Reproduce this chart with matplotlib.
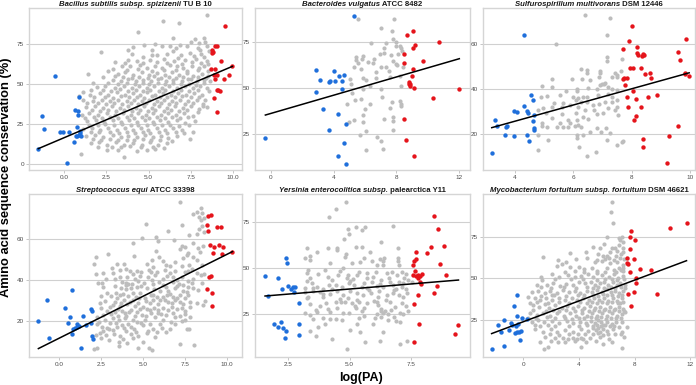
import numpy as np
import matplotlib
matplotlib.use("Agg")
import matplotlib.pyplot as plt

plt.rcParams['font.family'] = ['Liberation Sans', 'DejaVu Sans']

GRAY = '#BDBDBD'
BLUE = '#1F6FDB'
RED = '#E5141B'

# ---------------- Panel 1: Bacillus ----------------
bac_blue_x = [-1.52,-0.53,-1.32,-1.16,-0.24,-0.08,0.32,0.59,0.16,0.65,0.81,0.85,0.89,0.79,0.75,0.89,0.95,1.0,0.69,0.95]
bac_blue_y = [9.6,55.2,29.8,21.9,19.8,20.2,19.8,13.5,0.6,33.5,32.9,30.8,41.9,23.1,17.7,18.3,19.4,17.3,17.3,20.4]
bac_red_x = [9.55,8.95,9.07,8.74,8.84,8.78,9.29,8.72,8.93,9.96,9.75,8.9,9.03,8.93,9.49,9.13,9.23,9.03,8.9,9.03]
bac_red_y = [86.5,74.0,74.0,71.0,69.8,69.4,64.2,59.6,59.6,61.0,55.8,55.8,55.8,53.3,53.3,46.0,45.4,46.5,41.3,32.5]
bac_gray = [
(8.44,92.9),(5.88,89.2),(6.82,88.1),(4.36,82.5),(4.75,74.6),(6.43,78.8),(7.75,78.1),(8.28,78.8),(2.19,70.0),(3.81,71.0),
(5.19,71.5),(5.78,73.5),(6.27,73.5),(6.86,74.6),(7.3,73.5),(8.01,75.6),(8.34,76.0),(8.44,73.5),(8.6,70.4),(8.05,71.5),
(7.46,69.4),(6.47,70.4),(5.48,68.3),(4.69,66.9),(3.81,65.2),(4.3,64.2),(5.09,65.2),(5.92,65.6),(6.77,66.3),(7.16,64.8),
(7.8,65.6),(8.28,66.9),(8.44,64.2),(3.41,61.5),(3.91,61.0),(4.5,62.1),(4.89,60.0),(5.38,61.5),(5.78,60.0),(6.27,62.1),
(6.67,61.0),(7.06,60.0),(7.55,61.5),(8.01,60.0),(8.28,61.5),(1.44,56.5),(2.62,57.9),(3.21,56.5),(3.61,57.3),(4.1,55.8),
(4.6,57.3),(5.05,55.8),(5.48,56.9),(5.98,55.8),(6.37,57.3),(6.82,55.8),(7.26,56.9),(7.65,55.2),(8.15,56.5),(8.54,55.2),
(2.88,52.7),(3.35,51.7),(3.81,53.1),(4.26,51.7),(4.69,52.7),(5.13,51.7),(5.58,53.1),(6.04,51.7),(6.47,52.7),(6.96,51.7),
(7.36,53.1),(7.85,51.7),(8.28,52.7),(8.64,51.7),(1.93,48.1),(2.43,49.0),(3.02,47.5),(3.55,49.0),(4.0,47.5),(4.46,48.5),
(4.89,47.5),(5.33,49.0),(5.78,47.5),(6.23,48.5),(6.67,47.5),(7.16,49.0),(7.61,47.5),(8.05,48.5),(8.48,47.5),(1.14,44.8),
(1.54,43.3),(2.13,44.4),(2.62,43.3),(3.12,44.8),(3.61,43.3),(4.06,44.4),(4.5,43.3),(4.93,44.8),(5.38,43.3),(5.84,44.4),
(6.31,43.3),(6.77,44.4),(7.22,43.3),(7.69,44.4),(8.15,43.3),(1.1,40.2),(1.74,39.2),(2.23,40.2),(2.72,39.2),(3.21,40.2),
(3.71,39.2),(4.14,40.2),(4.6,39.2),(5.05,40.2),(5.48,39.2),(5.92,40.2),(6.37,39.2),(6.86,40.2),(7.36,39.2),(7.85,40.2),
(1.3,35.6),(1.83,36.5),(2.33,35.0),(2.82,36.0),(3.31,35.0),(3.81,36.0),(4.26,35.0),(4.73,36.0),(5.19,35.0),(5.64,36.0),
(6.07,35.0),(6.57,36.0),(7.02,35.0),(7.5,36.0),(8.01,34.4),(8.44,35.6),(1.05,30.8),(1.5,31.9),(2.03,30.8),(2.52,31.9),
(3.02,30.8),(3.51,31.9),(3.94,30.8),(4.4,31.9),(4.85,30.8),(5.29,31.9),(5.72,30.8),(6.17,31.9),(6.63,30.8),(7.1,31.9),
(7.61,30.2),(1.38,26.7),(1.89,27.7),(2.37,26.0),(2.88,27.3),(3.35,26.0),(3.87,27.3),(4.3,26.0),(4.79,27.3),(5.25,26.0),
(5.68,27.3),(6.17,26.0),(6.67,27.3),(7.16,25.6),(7.75,26.7),(1.14,21.9),(1.64,22.5),(2.13,21.5),(2.62,22.5),(3.12,21.5),
(3.61,22.5),(4.06,21.5),(4.54,22.5),(4.99,21.5),(5.48,22.5),(5.98,21.0),(6.47,22.5),(6.96,21.0),(1.3,17.3),(1.83,18.3),
(2.33,16.9),(2.88,18.3),(3.35,16.9),(3.81,17.7),(4.3,16.9),(4.79,18.3),(5.25,16.9),(5.72,17.7),(6.17,16.3),(6.67,17.3),
(7.46,15.6),(1.58,13.1),(2.09,13.5),(2.56,12.1),(3.08,13.5),(3.55,12.1),(4.06,13.1),(4.6,12.1),(5.09,13.5),(5.58,12.1),
(6.07,13.1),(2.52,8.5),(3.21,9.0),(4.3,7.9),(4.89,9.0),(5.38,9.4),(1.0,6.5),(3.55,4.2),(7.61,19.8),(8.34,40.2),(8.24,36.0),
(2.9,59.3),(3.7,58.8),(4.4,59.6),(5.2,58.4),(5.9,59.0),(6.6,58.7),(7.3,58.3),(7.9,58.9),(8.5,58.0),
(2.3,54.1),(3.0,54.9),(3.5,54.3),(4.0,53.5),(4.45,54.6),(4.95,53.9),(5.35,54.8),(5.75,53.6),(6.2,54.4),(6.6,53.8),
(7.05,54.5),(7.5,53.4),(7.95,54.2),(8.4,53.9),
(1.7,50.6),(2.6,50.9),(3.2,50.2),(3.75,50.8),(4.2,49.9),(4.7,50.5),(5.0,49.7),(5.55,50.4),(6.0,49.8),(6.45,50.6),
(6.9,49.9),(7.4,50.3),(7.8,49.6),(8.3,50.4),
(1.6,46.2),(2.3,46.4),(2.8,45.9),(3.3,46.6),(3.8,45.8),(4.25,46.3),(4.7,45.7),(5.1,46.5),(5.6,45.9),(6.0,46.2),
(6.45,45.8),(6.9,46.4),(7.4,45.7),(7.9,46.1),(8.6,45.5),
(0.9,42.3),(1.8,41.6),(2.4,42.0),(2.9,41.4),(3.35,42.2),(3.85,41.7),(4.3,42.0),(4.75,41.5),(5.2,42.2),(5.65,41.6),
(6.1,42.0),(6.55,41.7),(7.0,42.3),(7.5,41.8),(8.0,42.1),
(1.35,37.9),(2.0,38.2),(2.5,37.6),(2.95,38.0),(3.45,37.4),(3.95,38.1),(4.4,37.6),(4.85,38.0),(5.3,37.4),(5.75,37.9),
(6.2,37.5),(6.65,38.1),(7.15,37.6),(7.65,38.0),(8.2,37.7),
(1.65,33.6),(2.15,33.2),(2.6,33.8),(3.1,33.1),(3.55,33.6),(4.05,33.3),(4.5,33.8),(4.95,33.2),(5.4,33.7),(5.9,33.1),
(6.35,33.6),(6.8,33.3),(7.3,33.7),(7.9,32.8),
(1.25,28.9),(1.75,29.4),(2.25,28.8),(2.7,29.3),(3.2,28.7),(3.7,29.2),(4.15,28.6),(4.6,29.3),(5.05,28.8),(5.5,29.4),
(5.95,28.7),(6.4,29.2),(6.85,28.6),(7.35,29.1),
(1.5,24.6),(2.0,24.2),(2.45,24.8),(2.95,24.3),(3.45,24.7),(3.95,24.1),(4.4,24.6),(4.9,24.2),(5.35,24.8),(5.8,24.3),
(6.3,24.6),(6.8,24.0),(7.4,24.4),
(1.6,20.1),(2.1,19.7),(2.7,20.3),(3.25,19.6),(3.7,20.2),(4.2,19.5),(4.65,20.0),(5.1,19.6),(5.6,20.2),(6.1,19.4),
(6.6,19.9),(7.1,19.2),
(1.7,15.4),(2.2,15.0),(2.75,15.6),(3.2,14.9),(3.7,15.3),(4.15,14.8),(4.65,15.4),(5.15,15.0),(5.7,15.3),(6.4,14.6),
(2.0,10.6),(2.85,10.9),(3.4,10.4),(3.9,11.0),(4.55,10.5),(5.25,10.8),(5.9,10.2),
(3.0,63.6),(3.6,63.0),(4.7,63.4),(5.5,63.9),(6.1,63.2),(6.5,64.3),(7.0,62.8),(7.6,63.6),(8.1,63.0),(8.5,62.5),
(4.0,68.6),(5.2,67.9),(6.1,68.7),(6.9,68.2),(7.7,67.5),(8.1,68.9),
(4.1,73.2),(5.4,74.8),(6.6,72.8),(7.5,76.2),(7.9,72.4),
]
bac_fit = (4.48, 16.4)

# ---------------- Panel 2: Bacteroides ----------------
bvu_blue_x = [-0.34,5.31,2.87,2.85,3.15,3.7,3.79,4.0,4.06,4.33,4.54,4.67,4.56,3.35,4.27,4.8,3.74,4.65,4.27,4.76]
bvu_blue_y = [23.2,89.3,60.0,47.8,54.7,53.6,53.8,59.2,54.2,56.9,54.2,57.4,49.8,39.0,36.2,30.8,27.2,20.5,13.4,9.1]
bvu_red_x = [8.66,9.07,10.7,9.21,9.04,8.51,9.68,8.49,9.07,8.96,8.83,8.87,8.77,8.87,9.09,12.0,10.3,8.45,8.58,9.13]
bvu_red_y = [79.2,81.3,75.2,73.4,71.7,68.8,65.0,63.6,60.7,56.7,53.6,52.5,52.2,51.1,50.4,49.8,44.6,33.5,21.9,13.4]
bvu_gray = [
(5.58,87.5),(7.86,87.7),(7.0,82.8),(7.7,81.0),(7.79,76.6),(6.39,74.6),(7.35,74.8),(7.96,75.2),(7.94,72.8),(8.2,72.8),
(7.18,71.9),(8.28,71.9),(8.37,70.3),(7.22,69.2),(8.07,68.8),(7.66,67.9),(6.96,68.5),(6.54,66.1),(5.44,67.0),(5.86,67.4),
(5.8,66.1),(5.44,65.6),(6.18,64.3),(7.81,64.7),(7.96,63.4),(8.03,62.5),(5.58,63.8),(6.5,63.8),(5.31,61.6),(5.73,60.7),
(7.01,61.6),(6.69,58.9),(7.35,61.6),(7.5,59.4),(8.39,61.6),(8.2,56.5),(5.05,54.9),(5.86,55.6),(6.07,54.7),(6.69,55.6),
(7.56,56.2),(8.3,51.4),(5.12,52.2),(5.2,47.5),(5.9,49.8),(6.33,51.4),(7.0,49.6),(7.07,45.3),(5.37,43.5),(5.73,44.0),
(4.84,41.3),(6.33,41.7),(7.7,42.6),(8.24,43.1),(8.28,41.7),(8.3,40.2),(7.56,39.5),(5.99,38.6),(5.9,35.3),(7.22,33.5),
(7.81,34.4),(7.81,32.1),(5.31,32.6),(4.97,31.7),(5.9,31.7),(7.81,27.2),(6.07,26.8),(5.65,24.5),(6.75,23.6),(7.0,21.4),
(7.13,17.2),(6.07,16.3),
]
bvu_fit = (2.48, 36.3)

# ---------------- Panel 3: Sulfurospirillum ----------------
smu_blue_x = [4.29,3.2,3.3,3.37,3.71,3.69,3.66,3.98,3.97,4.06,4.31,4.4,4.43,4.54,4.61,4.65,4.63,4.65,4.65,4.4,4.49]
smu_blue_y = [63.9,11.6,26.4,23.7,23.7,23.4,19.7,19.3,30.4,29.9,32.6,30.4,29.3,37.5,35.0,28.4,25.9,22.8,21.9,19.7,17.0]
smu_red_x = [8.0,9.87,7.9,8.17,7.69,8.17,8.38,8.23,8.34,8.43,9.6,9.66,7.95,8.06,8.31,8.63,8.45,9.81,9.83,9.97,8.66,7.74,
             7.83,7.71,7.77,7.83,8.06,8.14,8.57,8.86,7.86,8.31,8.09,8.14,8.4,8.4,9.29,9.6,9.2]
smu_red_y = [68.1,62.2,61.6,58.8,58.1,56.0,55.7,55.3,54.8,55.0,56.4,53.0,49.6,49.3,49.6,47.4,46.7,47.4,46.7,45.9,44.9,45.2,
             44.9,44.6,41.9,36.7,39.0,35.6,36.7,37.6,32.3,31.9,26.1,27.9,17.8,14.5,19.0,23.7,7.1]
smu_gray = [
(6.4,72.9),(7.26,71.6),(7.14,64.1),(5.41,60.0),(7.14,54.1),(7.14,52.6),(7.66,53.3),(6.25,48.9),(6.46,48.6),(6.48,47.1),
(6.91,48.1),(6.91,47.1),(7.43,47.4),(7.49,46.4),(7.63,47.9),(7.49,45.3),(7.31,45.6),(6.89,45.6),(6.29,44.7),(6.57,44.1),
(5.26,44.6),(5.94,44.4),(4.91,41.5),(5.26,41.2),(6.51,40.4),(6.11,40.0),(6.11,39.0),(5.75,39.4),(6.91,41.9),(6.97,42.4),
(7.05,42.4),(7.1,42.7),(7.2,40.9),(7.34,40.0),(6.8,40.0),(7.49,39.7),(7.2,37.9),(7.31,36.7),(6.85,37.5),(6.46,36.7),
(6.34,36.4),(6.17,36.0),(6.0,36.4),(5.54,37.5),(5.11,37.0),(4.89,36.7),(6.09,35.3),(6.26,34.5),(6.46,34.5),(6.66,33.0),
(6.89,33.5),(7.09,34.5),(7.31,34.5),(7.49,35.3),(7.49,32.0),(7.43,30.8),(7.2,31.6),(7.54,28.6),(7.03,29.3),(6.69,30.8),
(6.8,28.9),(6.4,30.8),(6.17,32.0),(5.89,33.0),(5.6,32.0),(5.66,33.8),(5.26,32.3),(4.97,31.6),(4.77,30.8),(5.06,29.3),
(5.6,28.9),(6.09,29.3),(6.34,27.6),(6.51,26.7),(6.11,26.1),(5.89,24.9),(5.54,24.9),(5.26,27.1),(4.91,24.9),(4.94,23.7),
(5.11,23.0),(5.43,23.4),(5.66,23.0),(5.83,23.4),(6.06,23.7),(6.17,24.1),(6.25,23.4),(6.8,22.7),(7.12,22.7),(6.94,21.2),
(6.57,21.2),(7.26,20.7),(6.11,19.7),(6.34,19.7),(4.77,19.7),(6.11,18.2),(5.12,17.5),(7.14,17.5),(7.66,16.7),(7.71,17.2),
(7.51,15.3),(6.2,14.5),(4.77,13.0),(6.46,10.1),(6.78,12.3),(5.8,26.1),(5.34,33.8),
]
smu_fit = (3.6, 11.4)

# ---------------- Panel 4: Streptococcus ----------------
seq_blue_x = [-1.25,-0.76,-0.6,0.74,0.36,0.64,0.54,0.82,0.94,0.76,1.08,1.2,1.04,1.43,1.57,1.89,1.93,1.87,1.93,1.99,1.27]
seq_blue_y = [20.0,30.1,11.5,35.0,26.5,21.8,19.0,16.1,16.4,13.5,18.4,17.6,17.2,22.4,17.9,25.7,24.9,19.2,12.8,11.2,6.9]
seq_red_x = [8.9,9.04,8.8,9.4,9.64,8.9,9.0,9.26,9.54,9.76,9.2,9.72,10.34,8.94,9.06,8.8,9.12,9.1]
seq_red_y = [71.4,71.8,67.0,66.2,65.9,64.2,57.2,56.4,57.1,56.1,53.5,53.0,53.6,41.7,42.0,35.5,33.9,27.5]
seq_gray = [
(7.21,78.4),(8.45,75.5),(8.21,73.6),(8.5,72.7),(7.97,72.4),(8.33,70.8),(8.63,70.3),(8.45,69.5),(5.16,67.5),(7.3,67.0),
(8.5,66.6),(8.37,64.9),(6.51,64.2),(8.21,62.4),(8.63,63.4),(7.75,62.1),(4.92,60.5),(5.78,61.0),(5.92,59.2),(4.42,58.0),
(8.01,58.0),(7.51,56.4),(8.61,56.9),(8.31,55.6),(5.78,54.3),(7.21,55.1),(8.41,54.0),(2.93,52.7),(4.46,52.0),(7.65,52.3),
(8.01,51.5),(7.41,51.0),(2.17,51.5),(5.52,49.9),(6.18,49.4),(6.91,49.1),(2.09,47.9),(3.43,47.9),(3.86,47.9),(5.22,47.9),
(5.58,46.6),(6.35,47.4),(6.61,46.9),(7.3,46.9),(7.77,47.4),(8.5,47.4),(3.13,45.8),(3.63,45.0),(4.22,44.5),(4.62,44.5),
(5.38,45.0),(5.46,43.8),(5.82,44.2),(6.91,44.5),(7.67,44.7),(8.21,43.3),(8.47,42.5),(8.65,42.9),(2.17,43.0),(2.63,43.3),
(4.02,41.7),(4.38,42.9),(4.82,42.2),(6.41,42.2),(6.81,41.7),(7.31,41.7),(2.29,38.8),(2.57,38.8),(3.33,40.4),(3.73,39.3),
(3.98,38.8),(4.12,38.0),(4.32,38.0),(4.72,39.6),(5.06,38.4),(5.52,40.1),(5.98,39.3),(6.22,37.6),(6.81,38.9),(7.17,38.3),
(7.41,37.6),(7.71,36.8),(8.01,36.3),(8.5,38.4),(3.67,36.3),(3.98,35.7),(4.26,36.3),(4.62,36.8),(5.22,36.0),(5.66,35.7),
(6.02,34.7),(6.51,34.7),(6.91,36.0),(7.37,34.7),(7.61,34.0),(2.87,33.6),(3.39,33.6),(3.82,33.1),(4.38,33.6),(4.82,33.6),
(5.46,32.7),(5.82,31.9),(6.41,32.7),(6.81,31.9),(7.21,32.7),(3.47,31.1),(3.86,30.3),(4.38,30.3),(4.78,31.1),(5.18,29.8),
(5.58,30.3),(6.02,30.3),(6.51,29.1),(6.91,30.3),(7.5,31.1),(8.21,28.7),(8.57,27.8),(8.71,29.8),(2.43,28.7),(3.19,27.8),
(3.63,27.5),(4.06,28.2),(4.52,27.5),(5.02,27.0),(5.22,25.9),(5.66,26.2),(6.18,26.5),(6.71,27.0),(7.01,25.9),(7.31,26.5),
(2.83,24.9),(3.33,24.6),(3.73,24.9),(3.92,23.8),(4.18,24.2),(4.62,24.6),(4.92,22.9),(5.46,23.8),(5.92,23.8),(6.37,22.9),
(6.77,23.8),(7.21,22.6),(7.51,23.3),(2.27,22.1),(2.73,20.5),(3.23,21.6),(3.59,20.5),(3.92,21.3),(4.38,20.5),(4.62,19.7),
(5.12,20.5),(6.22,20.5),(6.65,19.7),(7.31,20.0),(7.51,20.5),(2.23,18.4),(2.53,17.2),(2.87,16.7),(2.99,16.1),(3.43,17.2),
(3.73,18.0),(3.86,16.7),(4.28,17.2),(4.46,16.1),(5.02,18.0),(5.62,16.1),(5.82,14.8),(6.12,16.7),(6.61,16.1),(7.61,16.1),
(7.77,16.1),(2.43,14.0),(2.79,13.1),(3.27,13.5),(3.63,12.8),(4.26,13.5),(4.72,12.4),(5.22,14.0),(2.99,10.7),(3.59,9.9),
(4.02,9.1),(4.98,9.9),(2.27,6.9),(2.07,6.3),(3.57,7.5),(4.72,6.9),(5.38,6.9),(5.52,5.8),(7.21,8.6),(8.05,8.2),
(7.31,56.9),(6.87,59.7),(7.71,53.1),(5.98,51.2),(6.31,45.0),(7.95,45.5),(8.21,49.9),(2.17,13.1),(7.37,28.2),(7.81,27.0),
(3.2,43.5),(4.0,45.6),(4.9,44.0),(5.7,42.6),(6.6,43.5),(7.5,43.9),(8.0,40.4),
(2.8,40.5),(3.6,41.7),(4.5,40.5),(5.3,41.5),(6.2,40.6),(7.0,40.3),(7.7,39.6),
(2.6,36.4),(3.3,37.2),(4.0,37.5),(4.9,37.0),(5.6,38.1),(6.4,36.4),(7.0,37.2),(7.9,38.4),(8.3,35.0),
(2.5,32.0),(3.1,32.4),(3.6,32.8),(4.1,32.2),(4.6,31.9),(5.1,31.4),(5.6,32.5),(6.2,31.5),(6.6,33.4),(7.0,31.2),(7.7,32.6),
(2.7,29.6),(3.3,29.2),(3.7,28.8),(4.2,29.4),(4.7,28.6),(5.4,28.9),(5.9,28.3),(6.3,30.5),(6.7,28.7),(7.2,29.4),(7.8,29.5),
(2.5,26.2),(3.0,26.7),(3.5,26.0),(4.3,25.6),(4.8,26.0),(5.4,25.4),(5.9,25.2),(6.5,25.5),(7.5,25.0),
(2.6,23.0),(3.1,23.2),(3.5,22.5),(4.0,22.6),(4.5,22.4),(5.2,22.3),(5.7,22.0),(6.1,23.6),(6.9,22.0),(7.8,21.8),
(2.4,19.5),(3.0,19.2),(3.4,18.8),(4.1,18.7),(4.9,19.0),(5.4,18.6),(6.0,18.7),(6.9,18.3),
(2.6,15.3),(3.2,15.6),(4.0,15.0),(4.6,14.8),(5.3,15.3),(6.4,14.5),
(2.5,11.8),(3.8,11.2),(4.4,11.5),(5.7,12.0),
]
seq_fit = (4.1, 11.6)

# ---------------- Panel 5: Yersinia ----------------
yen_blue_x = [1.55,1.68,2.07,2.39,2.46,2.23,2.5,2.6,2.68,2.77,2.74,2.93,1.92,2.09,2.19,2.27,2.39,2.36,2.93,2.93]
yen_blue_y = [46.0,35.0,44.6,55.8,52.7,38.8,40.4,38.8,39.7,39.7,37.0,31.0,19.6,18.3,20.7,17.8,15.9,12.0,19.6,13.8]
yen_red_x = [8.45,8.61,8.32,8.83,8.17,7.7,7.7,7.62,7.57,8.68,7.67,7.6,7.7,7.8,7.86,7.97,7.8,8.93,7.89,7.9,8.57,8.44,
             7.8,7.64,7.84,9.44,9.29,7.64]
yen_red_y = [78.4,71.4,61.6,62.3,58.5,58.7,55.1,54.0,51.8,52.2,48.6,46.4,46.0,46.4,46.0,46.7,44.9,46.4,42.8,41.3,40.2,36.4,
             35.5,30.6,19.6,19.0,14.5,9.8]
yen_gray = [
(4.84,86.2),(4.44,82.2),(4.17,78.1),(6.78,73.0),(5.26,72.3),(5.63,72.3),(5.49,70.8),(4.95,71.2),(4.98,68.5),(4.77,65.9),
(6.28,64.1),(4.13,61.2),(3.25,60.9),(4.47,61.2),(4.5,60.0),(5.26,61.4),(5.49,61.4),(6.96,60.9),(4.85,57.8),(5.83,59.1),
(3.68,59.1),(3.38,56.9),(3.18,55.8),(3.38,54.3),(4.81,56.3),(5.59,55.8),(5.9,54.0),(6.4,55.4),(6.24,55.1),(6.35,54.0),
(6.96,55.8),(6.96,54.0),(5.42,53.3),(5.11,53.1),(4.2,52.7),(6.1,51.8),(6.37,51.8),(7.03,51.8),(3.32,49.1),(3.27,47.3),
(3.99,49.1),(4.74,50.0),(5.4,47.8),(5.72,47.3),(6.08,47.8),(6.51,47.3),(6.74,47.8),(7.12,47.8),(7.3,46.7),(4.1,45.5),
(4.54,46.4),(4.88,44.6),(4.95,46.4),(5.15,44.2),(5.72,44.6),(6.3,43.7),(6.64,42.8),(7.0,42.8),(7.19,41.8),(7.39,43.7),
(3.25,43.1),(3.45,41.8),(3.68,40.0),(3.93,38.8),(4.16,40.9),(4.43,40.9),(4.7,40.0),(4.97,41.8),(5.18,40.9),(5.49,40.0),
(5.69,39.1),(6.1,40.4),(6.37,40.0),(6.78,40.9),(7.12,40.0),(3.18,39.1),(3.18,37.0),(3.32,34.6),(3.52,37.7),(3.79,37.3),
(4.2,35.9),(4.5,37.7),(4.74,35.5),(4.95,34.1),(5.31,36.4),(5.56,35.5),(5.87,36.4),(6.17,34.6),(6.51,35.5),(6.78,36.4),
(7.0,35.5),(7.19,34.6),(7.32,36.4),(4.04,31.0),(4.44,31.9),(4.65,31.9),(4.81,31.5),(5.08,31.0),(5.39,31.9),(5.72,31.0),
(6.17,30.1),(6.64,31.9),(6.85,29.2),(7.12,31.0),(3.18,25.5),(3.63,27.4),(3.68,26.4),(4.2,26.4),(4.74,25.9),(4.99,25.5),
(5.28,28.3),(5.49,26.8),(6.3,26.8),(6.37,25.5),(6.44,26.8),(6.58,25.0),(7.05,25.5),(7.19,25.0),(3.52,22.3),(3.9,22.8),
(4.2,22.3),(4.44,22.3),(5.39,22.8),(6.04,22.8),(6.3,23.7),(6.58,21.9),(6.89,21.4),(7.05,21.0),(3.38,15.9),(3.63,13.4),
(3.72,18.3),(5.01,16.5),(5.31,19.6),(5.94,19.6),(5.42,15.6),(6.37,15.6),(4.27,11.6),(5.63,10.1),(6.24,10.5),(7.32,10.5),
(7.05,8.7),(4.88,6.2),(3.25,33.7),(3.93,34.6),(7.53,42.8),(6.92,46.4),(5.9,42.8),(6.1,31.9),
(3.4,45.0),(3.7,47.0),(4.3,43.5),(4.6,48.5),(5.0,43.0),(5.3,46.5),(5.6,42.0),(5.95,45.5),(6.25,41.5),(6.6,44.5),
(6.9,38.5),(7.2,44.5),(3.5,39.5),(3.9,36.0),(4.3,38.5),(4.6,33.5),(5.0,37.5),(5.3,33.0),(5.8,38.0),(6.2,37.5),
(6.5,33.0),(6.8,38.0),(7.3,38.5),(3.4,30.5),(3.8,29.5),(4.1,28.0),(4.5,28.5),(5.2,29.5),(5.6,28.5),(6.0,32.5),
(6.3,28.0),(6.7,27.5),(7.3,29.5),(3.4,24.5),(4.0,20.0),(4.7,22.0),(5.6,24.0),(6.1,25.0),(6.8,23.5),(7.4,27.0),
]
yen_fit = (1.1, 33.25)

# ---------------- Panel 6: Mycobacterium ----------------
mfo_blue_x = [-2.28,-1.8,-1.63,-1.37,-1.37,-1.03,-0.89,-0.79,-0.43,-0.65,-0.43,-0.6,-0.43,-0.29,-0.17,-0.36,-0.07,-0.24,0.24,-0.53]
mfo_blue_y = [7.4,22.0,18.0,25.0,9.6,19.0,23.0,22.0,40.0,33.4,27.6,17.4,18.0,18.0,18.4,22.4,26.0,13.0,25.4,21.4]
mfo_red_x = [7.74,11.74,10.54,7.66,8.05,7.71,7.47,7.95,7.43,7.55,8.38,9.17,7.66,8.14,8.07,7.95,7.55,9.65,7.78]
mfo_red_y = [78.4,83.0,80.0,74.6,73.0,67.4,62.4,61.6,59.0,58.4,55.6,54.8,53.6,50.4,47.4,42.0,40.6,40.6,33.4]
mfo_gray = [
(6.35,96.0),(6.28,89.6),(6.42,83.0),(5.99,75.0),(6.9,74.0),(7.07,74.6),(6.95,73.0),(7.19,72.0),(5.03,69.0),(4.5,66.0),
(5.8,70.4),(5.51,68.0),(6.35,68.0),(6.59,68.4),(6.9,70.0),(7.14,68.0),(7.19,66.0),(1.44,63.0),(3.35,65.4),(5.39,64.4),
(5.7,63.6),(5.99,63.6),(6.18,62.4),(6.66,63.6),(6.95,62.4),(7.23,61.6),(2.51,61.0),(3.07,59.6),(4.02,57.0),(5.15,59.6),
(5.63,60.4),(6.23,59.0),(6.71,59.6),(7.19,58.0),(2.4,57.4),(2.75,58.4),(3.35,57.0),(3.71,54.4),(4.36,55.6),(4.91,56.0),
(5.32,54.4),(5.99,56.0),(6.51,55.0),(6.9,56.0),(7.19,54.4),(1.27,51.0),(1.32,49.0),(2.04,52.4),(2.59,51.0),(3.23,52.0),
(3.71,51.0),(4.12,51.6),(4.67,52.4),(5.03,51.0),(5.63,52.0),(6.18,51.0),(6.51,52.4),(6.83,50.4),(7.14,51.6),(0.96,46.0),
(1.72,46.0),(2.16,47.0),(2.63,45.6),(3.07,46.4),(3.59,46.0),(4.02,48.0),(4.43,47.0),(4.84,47.6),(5.15,46.0),(5.51,47.0),
(5.8,48.0),(6.11,46.0),(6.47,47.6),(6.71,46.0),(6.99,47.0),(7.31,46.0),(0.6,42.0),(1.08,42.4),(1.56,41.0),(1.92,42.4),
(2.4,41.0),(2.87,43.0),(3.31,41.6),(3.71,42.4),(4.07,41.0),(4.55,42.4),(4.91,41.6),(5.27,43.0),(5.63,42.0),(5.99,43.6),
(6.28,41.6),(6.59,42.4),(6.9,41.0),(7.19,42.4),(0.36,39.0),(0.84,38.0),(1.2,37.0),(1.63,38.4),(2.04,37.0),(2.59,38.0),
(3.0,37.0),(3.47,38.4),(3.88,37.0),(4.31,38.0),(4.74,37.0),(5.08,38.4),(5.46,37.0),(5.8,38.0),(6.11,36.4),(6.42,38.0),
(6.71,36.4),(7.07,38.0),(0.72,34.0),(1.15,33.0),(1.56,34.4),(1.87,32.4),(2.28,34.0),(2.75,32.4),(3.16,33.6),(3.59,32.4),
(3.95,33.6),(4.36,32.0),(4.79,33.6),(5.15,32.0),(5.51,33.0),(5.87,31.6),(6.23,33.0),(6.59,31.6),(6.9,33.0),(7.19,31.6),
(0.48,29.0),(0.96,28.0),(1.44,29.0),(1.92,27.6),(2.4,29.0),(2.92,27.6),(3.35,29.0),(3.78,27.6),(4.19,29.0),(4.55,27.6),
(4.91,29.0),(5.32,27.6),(5.63,29.0),(5.99,27.6),(6.35,29.0),(6.71,27.6),(7.07,28.4),(0.6,24.0),(1.08,25.0),(1.49,23.6),
(2.04,24.4),(2.59,23.0),(3.11,24.4),(3.59,23.0),(4.07,24.0),(4.5,23.0),(4.84,24.4),(5.15,23.0),(5.39,25.0),(5.56,23.6),
(5.75,22.0),(6.04,24.0),(6.35,22.4),(6.66,23.6),(7.07,24.0),(0.84,19.6),(1.44,18.0),(1.96,19.6),(2.4,18.0),(3.0,19.0),
(3.54,18.0),(4.12,19.6),(4.67,18.4),(5.03,20.4),(5.22,19.0),(5.39,20.4),(5.51,18.0),(5.7,19.6),(5.99,18.4),(6.47,19.6),
(7.07,18.0),(1.56,15.0),(2.28,14.0),(2.87,14.4),(3.23,13.6),(3.59,14.4),(3.88,13.6),(4.12,14.4),(4.31,13.6),(4.79,14.0),
(5.51,15.0),(6.18,13.6),(1.2,12.0),(2.51,11.6),(1.8,9.0),(1.49,7.6),(4.12,9.0),(5.75,10.4),(7.11,8.0),(0.48,35.0),
(0.84,22.0),(0.36,26.4),(6.95,35.0),(7.31,30.0),(7.43,21.0),(7.23,15.0),(7.19,56.0),(2.04,40.0),
(3.0,53.6),(4.4,53.8),(5.3,53.2),(5.9,53.9),(6.7,53.6),(7.0,54.8),
(2.3,49.5),(3.4,49.3),(4.3,49.8),(5.3,49.2),(5.9,49.7),(6.35,49.4),(6.75,48.9),(7.25,49.8),
(1.3,44.5),(2.0,44.2),(2.9,44.7),(3.8,44.3),(4.6,44.8),(5.0,44.4),(5.4,44.9),(5.8,44.3),(6.3,44.7),(6.6,44.1),(7.0,44.6),(7.35,44.0),
(1.3,39.6),(2.2,39.9),(3.1,39.5),(3.9,40.2),(4.4,39.7),(5.0,40.1),(5.35,39.5),(5.7,40.3),(6.05,39.8),(6.4,40.2),(6.8,39.5),(7.1,40.0),
(1.0,35.6),(1.8,35.2),(2.6,35.8),(3.3,35.3),(4.1,35.7),(4.55,35.2),(4.95,35.8),(5.3,35.3),(5.65,35.9),(6.0,35.0),(6.4,35.5),(6.8,35.2),(7.2,35.7),
(0.7,30.8),(1.6,30.4),(2.1,30.9),(2.6,30.3),(3.1,30.7),(3.7,30.2),(4.2,30.8),(4.7,30.5),(5.1,30.9),(5.45,30.3),(5.8,30.8),(6.15,30.4),(6.5,30.9),(6.85,30.2),(7.25,30.6),
(0.9,26.2),(1.7,26.5),(2.3,25.9),(3.0,26.3),(3.5,25.8),(4.0,26.4),(4.4,25.9),(4.85,26.6),(5.25,26.0),(5.6,26.5),(5.95,25.8),(6.3,26.3),(6.65,25.9),(7.0,26.4),
(1.2,21.4),(1.8,21.8),(2.3,21.2),(3.3,21.6),(4.0,21.3),(4.6,21.7),(5.0,21.2),(5.3,22.0),(5.6,21.3),(5.9,21.7),(6.2,21.1),(6.55,21.5),(6.9,21.0),
(1.9,16.6),(2.6,16.2),(3.3,16.7),(3.9,16.3),(4.45,16.8),(5.0,16.4),(5.35,16.9),(5.75,16.2),(6.1,16.6),(6.6,16.3),(7.0,16.7),
(2.0,12.5),(3.0,12.0),(3.7,12.3),(4.5,11.6),(5.2,12.4),(6.4,11.8),
(3.8,61.5),(4.6,62.0),(5.3,61.0),(5.9,61.5),(6.5,61.0),(7.0,64.6),(6.2,66.0),(6.75,66.4),
]
mfo_fit = (3.12, 23.96)

# ---------------- Layout ----------------
titles = [
    ("Bacillus subtilis subsp. spizizenii", " TU B 10"),
    ("Bacteroides vulgatus", " ATCC 8482"),
    ("Sulfurospirillum multivorans", " DSM 12446"),
    ("Streptococcus equi", " ATCC 33398"),
    ("Yersinia enterocolitica subsp.", " palearctica Y11"),
    ("Mycobacterium fortuitum subsp. fortuitum", " DSM 46621"),
]
panels = [
    (bac_gray, bac_blue_x, bac_blue_y, bac_red_x, bac_red_y, bac_fit),
    (bvu_gray, bvu_blue_x, bvu_blue_y, bvu_red_x, bvu_red_y, bvu_fit),
    (smu_gray, smu_blue_x, smu_blue_y, smu_red_x, smu_red_y, smu_fit),
    (seq_gray, seq_blue_x, seq_blue_y, seq_red_x, seq_red_y, seq_fit),
    (yen_gray, yen_blue_x, yen_blue_y, yen_red_x, yen_red_y, yen_fit),
    (mfo_gray, mfo_blue_x, mfo_blue_y, mfo_red_x, mfo_red_y, mfo_fit),
]
xlims = [(-2.07, 10.53), (-1.0, 12.68), (2.90, 10.17), (-1.81, 10.91), (1.14, 9.91), (-2.9, 12.35)]
ylims = [(-3.75, 97.5), (5.6, 93.6), (4.1, 76.1), (2.35, 82.2), (1.8, 90.4), (2.8, 100.6)]
xticks = [[0, 2.5, 5, 7.5, 10], [0, 4, 8, 12], [4, 6, 8, 10], [0, 2.5, 5, 7.5, 10], [2.5, 5, 7.5], [0, 4, 8, 12]]
xticklabels = [["0.0", "2.5", "5.0", "7.5", "10.0"], ["0", "4", "8", "12"], ["4", "6", "8", "10"],
               ["0.0", "2.5", "5.0", "7.5", "10.0"], ["2.5", "5.0", "7.5"], ["0", "4", "8", "12"]]
yticks = [[0, 25, 50, 75], [25, 50, 75], [20, 40, 60], [20, 40, 60], [25, 50, 75], [25, 50, 75]]

W, H = 696, 385
fig = plt.figure(figsize=(W / 100, H / 100), dpi=100)
col_px = [(29, 242), (255, 470), (483, 695)]
row_px = [(8, 170), (194, 357)]

axes = []
for i in range(6):
    r, c = divmod(i, 3)
    x0, x1 = col_px[c]
    y0, y1 = row_px[r]
    ax = fig.add_axes([x0 / W, 1 - y1 / H, (x1 - x0) / W, (y1 - y0) / H])
    axes.append(ax)
    gray, bx, by, rx, ry, fit = panels[i]
    g = np.array(gray)
    ax.scatter(g[:, 0], g[:, 1], s=9, c=GRAY, linewidths=0, zorder=2)
    ax.scatter(bx, by, s=10, c=BLUE, linewidths=0, zorder=3)
    ax.scatter(rx, ry, s=10, c=RED, linewidths=0, zorder=3)
    allx = np.concatenate([g[:, 0], bx, rx])
    xs = np.array([allx.min(), allx.max()])
    ax.plot(xs, fit[0] * xs + fit[1], color='black', lw=1.1, zorder=4)
    ax.set_xlim(*xlims[i])
    ax.set_ylim(*ylims[i])
    ax.set_xticks(xticks[i])
    ax.set_xticklabels(xticklabels[i])
    ax.set_yticks(yticks[i])
    ax.grid(axis='y', color='#D0D0D0', lw=0.8, zorder=0)
    ax.set_axisbelow(True)
    for sp in ax.spines.values():
        sp.set_color('#D5D5D5')
        sp.set_linewidth(1.0)
    ax.tick_params(axis='both', labelsize=4.6, colors='#4D4D4D', length=2, width=0.6, pad=1.5)
    ax.tick_params(axis='both', color='#BBBBBB')

# titles with italic + upright parts
title_parts = []
for ax, (it, up) in zip(axes, titles):
    t1 = ax.text(0.5, 1.0, it, transform=ax.transAxes, style='italic', weight='bold',
                 fontsize=5.6, ha='left', va='bottom', color='#1A1A1A')
    t2 = ax.annotate(up, xy=(1, 0), xycoords=t1, ha='left', va='bottom',
                     weight='bold', fontsize=5.6, color='#1A1A1A')
    title_parts.append((ax, t1, t2))

fig.text(6.5 / W, 1 - 177.5 / H, "Amino acid sequence conservation (%)", rotation=90,
         ha='center', va='center', fontsize=9.3, weight='bold')
fig.text(361.5 / W, 1 - 378.5 / H, "log(PA)", ha='center', va='center', fontsize=9.0, weight='bold')

fig.canvas.draw()
for ax, t1, t2 in title_parts:
    w = t1.get_window_extent().width + t2.get_window_extent().width
    aw = ax.get_window_extent().width
    t1.set_x(0.5 - w / 2 / aw)

fig.savefig("out.png", dpi=100)
